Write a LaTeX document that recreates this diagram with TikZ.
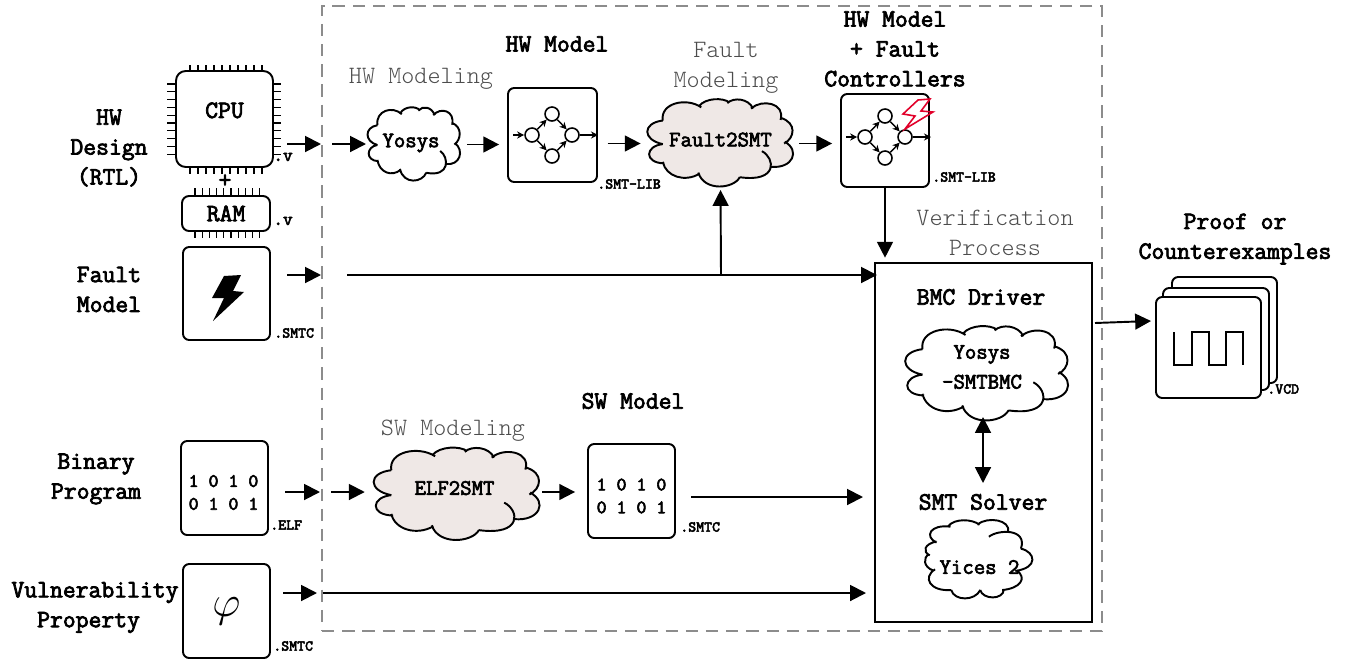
\documentclass[tikz,border=0pt]{standalone}
\usepackage{amsfonts, amssymb, amsmath}
\usepackage{fontspec}
\usepackage{tikz}
\usetikzlibrary{arrows.meta}
\usepackage{xcolor}

\newfontfamily\boldmono{Latin Modern Mono}[FakeBold=3]
\newfontfamily\thinmono{Latin Modern Mono Light}

\definecolor{cloudfill}{HTML}{EFE8E6}
\definecolor{boltred}{HTML}{E2002A}

\tikzset{
    lbl/.style={font=\fontsize{14.2}{17}\boldmono\selectfont, align=center, inner sep=0},
    pufflbl/.style={font=\fontsize{12.6}{17}\boldmono\selectfont, align=center, inner sep=0},
    modlbl/.style={font=\fontsize{14.2}{17}\thinmono\selectfont, align=center, inner sep=0, text=black!70},
    extlbl/.style={font=\fontsize{8.6}{10}\boldmono\selectfont, anchor=west, inner sep=0},
    bitlbl/.style={font=\fontsize{10.8}{13}\boldmono\selectfont, align=center, inner sep=0},
    box/.style={draw, line width=1.1pt, rounded corners=3.5pt, fill=white, inner sep=0},
    arw/.style={-{Triangle[length=9pt,width=9pt]}, line width=1.1pt},
    thinarw/.style={-{Stealth[length=4pt,width=4pt]}, line width=0.8pt},
    dot/.style={draw, circle, line width=0.9pt, minimum size=0.28cm, inner sep=0},
}

% the puffs of a cloud, each one starting a little inside the last one
\newcommand{\puffpath}[1]{(50,67) .. controls (40,10) and (130,-10) .. (180,24) #1
    (172,20) .. controls (195,-8) and (255,-8) .. (275,8) #1
    (268,10) .. controls (290,-10) and (340,-5) .. (355,28) #1
    (348,28) .. controls (385,-5) and (465,10) .. (448,65) #1
    (448,58) .. controls (505,75) and (495,125) .. (460,142) #1
    (462,136) .. controls (515,165) and (490,225) .. (415,218) #1
    (385,167) .. controls (430,190) and (440,270) .. (310,252) #1
    (310,252) .. controls (290,290) and (190,300) .. (170,237) #1
    (175,240) .. controls (125,270) and (60,250) .. (50,202) #1
    (55,207) .. controls (-15,205) and (-10,150) .. (50,144) #1
    (50,144) .. controls (-20,130) and (-20,75) .. (50,67)}

% centre x, centre y, width, height, fill, rotation
\newcommand{\drawpuff}[6]{
    \begin{scope}[shift={(#1,#2)}, rotate=#6, xscale=#3/490, yscale=#4/284, shift={(-245,-142)}]
        \fill[#5] \puffpath{--} -- cycle;
        \draw[line width=1.1pt] \puffpath{};
    \end{scope}
}

\begin{document}
\begin{tikzpicture}[x=0.02cm, y=-0.02cm]
    \useasboundingbox (0,0) rectangle (1352,663);

    % region of the verification flow
    \node[draw=black!45, dash pattern=on 7pt off 4.5pt, line width=1pt, minimum width=15.6cm, minimum height=12.5cm, inner sep=0] (flow) at (712,318.5) {};

    % inputs on the left
    \node[lbl] (hwdesign) at (109,148) {HW\\Design\\(RTL)};
    \node[lbl] (faultmodel) at (109,289.5) {Fault\\Model};
    \node[lbl] (binprog) at (96,479) {Binary\\Program};
    \node[lbl] (vulnprop) at (95,607.5) {Vulnerability\\Property\hphantom{ }};

    \node[box, rounded corners=5.5pt, minimum width=1.94cm, minimum height=1.92cm, lbl, text depth=10pt] (cpu) at (224.5,119) {CPU};
    \node[box, rounded corners=4pt, minimum width=1.76cm, minimum height=0.7cm, lbl] (ram) at (226,213.5) {RAM};
    \node[lbl] (plus) at (225,181) {+};
    \foreach \i in {0,...,9} {
        \draw[line width=0.7pt] ({190+8*\i},65) -- ++(0,6);
        \draw[line width=0.7pt] ({190+8*\i},168) -- ++(0,6);
        \draw[line width=0.7pt] (167,{84+7.8*\i}) -- ++(9,0);
        \draw[line width=0.7pt] (273,{84+7.8*\i}) -- ++(8,0);
        \draw[line width=0.7pt] ({195+7.2*\i},188) -- ++(0,8);
        \draw[line width=0.7pt] ({195+7.2*\i},231) -- ++(0,7);
    }
    \node[extlbl, font=\fontsize{10.5}{12}\boldmono\selectfont] (cpuext) at (273,157) {.v};
    \node[extlbl, font=\fontsize{10.5}{12}\boldmono\selectfont] (ramext) at (273,221) {.v};

    \node[box, minimum width=1.74cm, minimum height=1.86cm] (faultbox) at (226.5,293.5) {};
    \fill (224,276) -- (241,275) -- (233,291) -- (244,292) -- (213,321) -- (224,298) -- (212,298) -- cycle;
    \node[extlbl] (faultext) at (274,333) {.SMTC};

    \node[box, minimum width=1.74cm, minimum height=1.88cm] (elfbox) at (224.5,488) {};
    \node[bitlbl] (elfbits) at (223.5,492.5) {1 0 1 0\\0 1 0 1};
    \node[extlbl] (elfext) at (270,525) {.ELF};

    \node[box, minimum width=1.74cm, minimum height=1.88cm] (propbox) at (226.5,611) {{\Huge$\varphi$}};
    \node[extlbl] (propext) at (273,646) {.SMTC};

    % hw path
    \node[modlbl] (hwmodeling) at (421,78.5) {HW Modeling};
    \drawpuff{414}{144.5}{92}{73}{white}{0}
    \node[pufflbl, minimum width=1.78cm, minimum height=1.46cm, text depth=4.6pt] (yosys) at (411,144.5) {Yosys};
    \node[lbl] (hwtitle) at (557,44) {HW Model};
    \node[box, minimum width=1.78cm, minimum height=1.88cm] (hwbox) at (552.5,135) {};
    \node[extlbl] (hwext) at (597,184) {.SMT-LIB};

    \node[modlbl] (faultmodeling) at (726,68) {Fault\\Modeling};
    \drawpuff{720.5}{143.5}{145}{87}{cloudfill}{0}
    \node[pufflbl, minimum width=2.9cm, minimum height=1.74cm, text depth=4.6pt] (fault2smt) at (720.5,143.5) {Fault2SMT};
    \node[lbl] (ctrltitle) at (895,49) {HW Model\\+ Fault\\Controllers};
    \node[box, minimum width=1.76cm, minimum height=1.86cm] (ctrlbox) at (885,140.5) {};
    \node[extlbl] (ctrlext) at (932,177) {.SMT-LIB};

    % small state graphs, one in each hw box
    \foreach \n/\gx/\gy in {m/552/135, c/885/137} {
        \node[dot] (\n l) at (\gx-20,\gy) {};
        \node[dot] (\n t) at (\gx,\gy-21) {};
        \node[dot] (\n r) at (\gx+20,\gy) {};
        \node[dot] (\n b) at (\gx,\gy+21) {};
        \coordinate (\n in) at (\gx-39,\gy);
        \coordinate (\n out) at (\gx+46,\gy);
        \draw[thinarw] (\n in) -- (\n l);
        \draw[thinarw] (\n l) -- (\n t);
        \draw[thinarw] (\n l) -- (\n b);
        \draw[thinarw] (\n t) -- (\n r);
        \draw[thinarw] (\n b) -- (\n r);
        \draw[thinarw] (\n r) -- (\n out);
    }
    \draw[boltred, line width=0.9pt] (918,100) -- (930,99) -- (921,111) -- (933,112) -- (905,129) -- (915,116) -- (903,114) -- cycle;

    % sw path
    \node[modlbl] (swmodeling) at (453,431) {SW Modeling};
    \drawpuff{457}{494.5}{165}{92}{cloudfill}{0}
    \node[pufflbl, minimum width=3.26cm, minimum height=1.82cm, text depth=7.5pt] (elf2smt) at (454.5,494.5) {ELF2SMT};
    \node[lbl] (swtitle) at (633,401) {SW Model};
    \node[box, minimum width=1.74cm, minimum height=1.88cm] (swbox) at (631.5,491) {};
    \node[bitlbl] (swbits) at (631.5,496) {1 0 1 0\\0 1 0 1};
    \node[extlbl] (swext) at (680,527) {.SMTC};

    % verification process
    \node[modlbl] (verifproc) at (995,232.5) {Verification\\Process};
    \node[box, rounded corners=0pt, minimum width=4.34cm, minimum height=7.18cm] (verif) at (983.5,442.5) {};
    \node[lbl] (bmctitle) at (981,297) {BMC Driver};
    \drawpuff{987}{374}{162}{94}{white}{0}
    \node[pufflbl, minimum width=3.24cm, minimum height=1.88cm] (bmc) at (982,367) {Yosys\\-SMTBMC};
    \node[lbl] (smttitle) at (983,502) {SMT Solver};
    \drawpuff{979.5}{559}{78}{107}{white}{90}
    \node[pufflbl, minimum width=2.14cm, minimum height=1.56cm, text height=17pt] (yices) at (979.5,559) {Yices 2};

    % results
    \node[lbl] (prooftitle) at (1235,239) {Proof or\\Counterexamples};
    \node[box, minimum width=2.1cm, minimum height=2.12cm] (vcdc) at (1224.5,330) {};
    \node[box, minimum width=2.12cm, minimum height=2.04cm] (vcdb) at (1216,339) {};
    \node[box, minimum width=2.1cm, minimum height=2.02cm] (vcda) at (1208.5,347.5) {};
    \draw[line width=0.9pt] (1174,332) |- (1192,365) |- (1209,332) |- (1226,365) |- (1243,332) -- (1243,365);
    \node[extlbl] (vcdext) at (1267,389) {.VCD};

    % free ends of the connectors
    \coordinate (cpuout) at (287,144);
    \coordinate (flowcpu) at (321,144);
    \coordinate (flowcpub) at (332,144);
    \coordinate (yosysin) at (366,144);
    \coordinate (faultout) at (287,275);
    \coordinate (flowfault) at (321,275);
    \coordinate (flowfaultb) at (347,275);
    \coordinate (verifin) at (877,275);
    \coordinate (branch) at (721,275);
    \coordinate (elfout) at (285,492);
    \coordinate (flowelf) at (320,492);
    \coordinate (flowelfb) at (331,492);
    \coordinate (swout) at (691,497);
    \coordinate (verifsw) at (863,497);
    \coordinate (propout) at (283,593);
    \coordinate (flowprop) at (317,593);
    \coordinate (flowpropb) at (323,593);
    \coordinate (verifprop) at (866,593);
    \coordinate (verifout) at (1095,323);
    \coordinate (vcdin) at (1151,321);
    \coordinate (bmcdown) at (983,417);
    \coordinate (smtup) at (983,483);

    \draw[arw] (cpuout) -- (flowcpu);
    \draw[arw] (flowcpub) -- (yosysin);
    \draw[arw, shorten <=6.5pt, shorten >=4.5pt] (yosys.east) -- (hwbox.west |- yosys.east);
    \draw[arw, shorten <=5.5pt, shorten >=4pt] (hwbox.east |- fault2smt.west) -- (fault2smt.west);
    \draw[arw, shorten <=3.5pt, shorten >=4.5pt] (fault2smt.east) -- (ctrlbox.west |- fault2smt.east);
    \draw[arw] (faultout) -- (flowfault);
    \draw[arw] (flowfaultb) -- (verifin);
    \draw[arw, shorten >=1.5pt] (branch) -- (fault2smt.south);
    \draw[arw, shorten >=2.5pt] (ctrlbox.south) -- (verif.north -| ctrlbox.south);
    \draw[arw] (elfout) -- (flowelf);
    \draw[arw, shorten >=4.5pt] (flowelfb) -- (elf2smt.west |- flowelfb);
    \draw[arw, shorten <=3.4pt, shorten >=6.8pt] (elf2smt.east |- flowelf) -- (swbox.west |- flowelf);
    \draw[arw] (swout) -- (verifsw);
    \draw[arw] (propout) -- (flowprop);
    \draw[arw] (flowpropb) -- (verifprop);
    \draw[{Triangle[length=9pt,width=9pt]}-{Triangle[length=9pt,width=9pt]}, line width=1.1pt] (bmcdown) -- (smtup);
    \draw[arw] (verifout) -- (vcdin);
\end{tikzpicture}
\end{document}
